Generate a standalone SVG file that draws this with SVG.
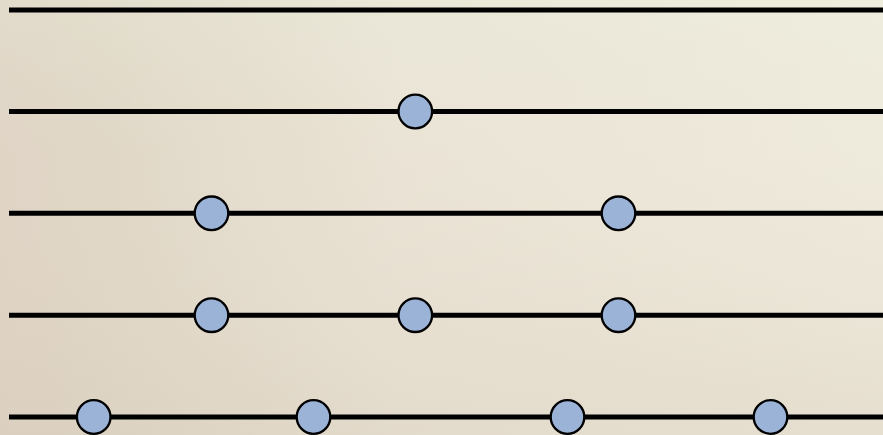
<svg xmlns="http://www.w3.org/2000/svg" width="883" height="435" viewBox="0 0 883 435">
<defs>
<linearGradient id="bgH" x1="0" y1="0" x2="1" y2="0">
<stop offset="0" stop-color="#dacdbd"/>
<stop offset="0.12" stop-color="#dbd2c0"/>
<stop offset="0.45" stop-color="#e8e2d3"/>
<stop offset="1" stop-color="#eeebdc"/>
</linearGradient>
<linearGradient id="bgV" x1="0" y1="0" x2="0" y2="1">
<stop offset="0" stop-color="#eef0e0" stop-opacity="0.4"/>
<stop offset="0.35" stop-color="#f0e8dc" stop-opacity="0.25"/>
<stop offset="1" stop-color="#ddd2c2" stop-opacity="0.5"/>
</linearGradient>
<style>
.ln{stroke:#000;stroke-width:5;fill:none}
.nd{fill:#9cb3d8;stroke:#000;stroke-width:2.3}
</style>
</defs>
<rect width="883" height="435" fill="url(#bgH)"/>
<rect width="883" height="435" fill="url(#bgV)"/>
<g id="connectors">
<line class="ln" x1="9" y1="10" x2="883" y2="10"/>
<line class="ln" x1="9" y1="111.5" x2="883" y2="111.5"/>
<line class="ln" x1="9" y1="213.3" x2="883" y2="213.3"/>
<line class="ln" x1="9" y1="315.2" x2="883" y2="315.2"/>
<line class="ln" x1="9" y1="417" x2="883" y2="417"/>
</g>
<g id="n1"><circle class="nd" cx="415.3" cy="111.5" r="16.8"/></g>
<g id="n2"><circle class="nd" cx="211.5" cy="213.3" r="16.8"/></g>
<g id="n3"><circle class="nd" cx="618.5" cy="213.3" r="16.8"/></g>
<g id="n4"><circle class="nd" cx="211.5" cy="315.2" r="16.8"/></g>
<g id="n5"><circle class="nd" cx="415.3" cy="315.2" r="16.8"/></g>
<g id="n6"><circle class="nd" cx="618.5" cy="315.2" r="16.8"/></g>
<g id="n7"><circle class="nd" cx="93.7" cy="417" r="16.8"/></g>
<g id="n8"><circle class="nd" cx="313.5" cy="417" r="16.8"/></g>
<g id="n9"><circle class="nd" cx="567.5" cy="417" r="16.8"/></g>
<g id="n10"><circle class="nd" cx="770.5" cy="417" r="16.8"/></g>
</svg>
